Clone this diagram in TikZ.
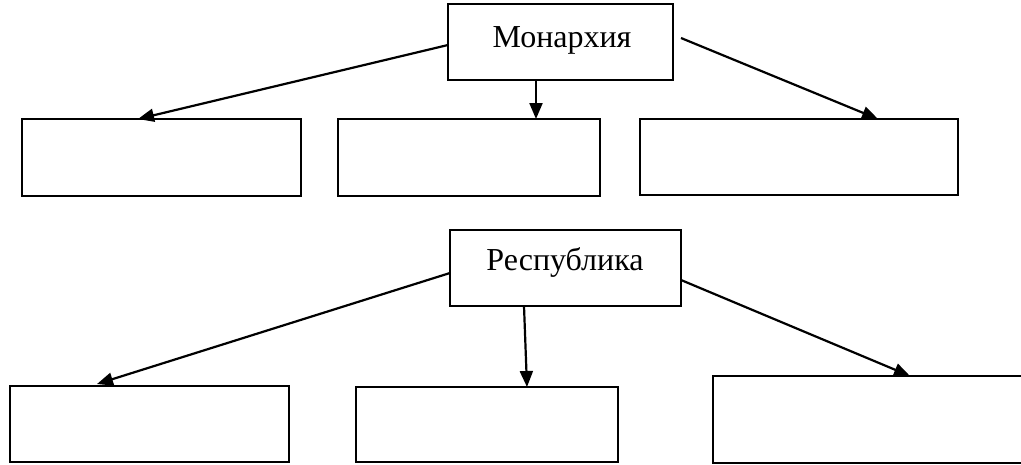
\documentclass[tikz,border=0pt]{standalone}
\usepackage{fontspec}
\setmainfont{Liberation Serif}
\usetikzlibrary{arrows.meta}
\begin{document}
\begin{tikzpicture}[x=1pt,y=-1pt,
  box/.style={draw,line width=2.2pt,inner sep=0pt,outer sep=0pt,anchor=north west},
  lbl/.style={font=\fontsize{32}{38}\selectfont,inner sep=0pt,anchor=base},
  arr/.style={line width=2.2pt,-{Triangle[length=16pt,width=13pt]}}]
\useasboundingbox (0,0) rectangle (1021,464);
\clip (0,0) rectangle (1021,464);
% top group
\node[box,minimum width=225pt,minimum height=76pt] (m) at (448,4) {};
\node[lbl] (mt) at (562,47) {Монархия};
\node[box,minimum width=279pt,minimum height=77pt] (b1) at (22,119) {};
\node[box,minimum width=262pt,minimum height=77pt] (b2) at (338,119) {};
\node[box,minimum width=318pt,minimum height=76pt] (b3) at (640,119) {};
% bottom group
\node[box,minimum width=231pt,minimum height=76pt] (r) at (450,230) {};
\node[lbl] (rt) at (565,270) {Республика};
\node[box,minimum width=279pt,minimum height=76pt] (b4) at (10,386) {};
\node[box,minimum width=262pt,minimum height=75pt] (b5) at (356,387) {};
\node[box,minimum width=330pt,minimum height=87pt] (b6) at (713,376) {};
% connector anchors
\coordinate (a1s) at ([yshift=-3pt]m.west);
\coordinate (a1e) at ([xshift=116pt]b1.north west);
\coordinate (a2s) at ([xshift=88pt]m.south west);
\coordinate (a2e) at ([xshift=198pt]b2.north west);
\coordinate (a3s) at ([xshift=8pt,yshift=-34pt]m.north east);
\coordinate (a3e) at ([xshift=238pt]b3.north west);
\coordinate (a4s) at ([yshift=-43pt]r.north west);
\coordinate (a4e) at ([xshift=87pt,yshift=2pt]b4.north west);
\coordinate (a5s) at ([xshift=74pt]r.south west);
\coordinate (a5e) at ([xshift=171pt]b5.north west);
\coordinate (a6s) at ([yshift=-50pt]r.north east);
\coordinate (a6e) at ([xshift=197pt]b6.north west);
\draw[arr] (a1s) -- (a1e);
\draw[arr] (a2s) -- (a2e);
\draw[arr] (a3s) -- (a3e);
\draw[arr] (a4s) -- (a4e);
\draw[arr] (a5s) -- (a5e);
\draw[arr] (a6s) -- (a6e);
\end{tikzpicture}
\end{document}
